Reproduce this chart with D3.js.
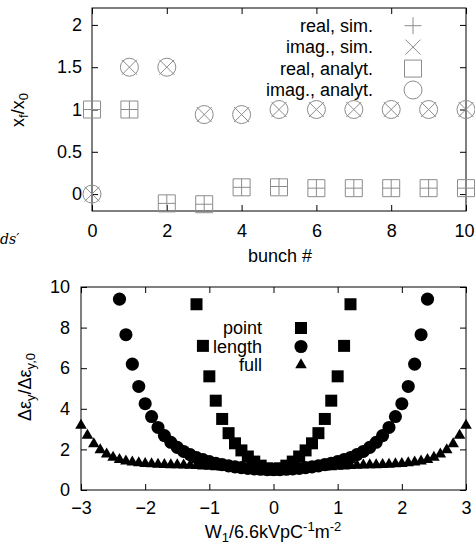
<!DOCTYPE html>
<html>
<head>
<meta charset="utf-8">
<script src="https://cdn.jsdelivr.net/npm/d3@7"></script>
<style>
    body { margin: 0; background: #fff; }
    svg { display: block; font-family: 'Liberation Sans', Arial, sans-serif; }
</style>
</head>
<body>
<div id="chart"></div>
<script>
// top panel: bunch number vs x_f/x_0
const bunches = [0, 1, 2, 3, 4, 5, 6, 7, 8, 9, 10];
const realSim = [1.0, 1.0, -0.11, -0.12, 0.08, 0.09, 0.07, 0.07, 0.07, 0.07, 0.07];
const imagSim = [0.0, 1.5, 1.5, 0.94, 0.94, 1.0, 1.0, 1.0, 1.0, 1.0, 1.0];
const realAnalyt = [1.0, 1.0, -0.11, -0.12, 0.08, 0.08, 0.07, 0.07, 0.07, 0.07, 0.07];
const imagAnalyt = [0.0, 1.5, 1.5, 0.94, 0.94, 1.0, 1.0, 1.0, 1.0, 1.0, 1.0];
const topXTicks = [0, 2, 4, 6, 8, 10];
const topYTicks = [0, 0.5, 1, 1.5, 2];
const topLegend = ['real, sim.', 'imag., sim.', 'real, analyt.', 'imag., analyt.'];

// bottom panel: emittance growth
const pointX = [-1.2, -1.1, -1.0, -0.9, -0.8, -0.7, -0.6, -0.5, -0.4, -0.3, -0.2, -0.1, 0,
    0.1, 0.2, 0.3, 0.4, 0.5, 0.6, 0.7, 0.8, 0.9, 1.0, 1.1, 1.2];
const pointY = [9.15, 7.1, 5.6, 4.4, 3.5, 2.8, 2.3, 1.95, 1.65, 1.4, 1.2, 1.07, 1.0,
    1.07, 1.2, 1.4, 1.65, 1.95, 2.3, 2.8, 3.5, 4.4, 5.6, 7.1, 9.15];
const lengthX = [-2.4, -2.3, -2.2, -2.1, -2.0, -1.9, -1.8, -1.7, -1.6, -1.5, -1.4, -1.3, -1.2,
    -1.1, -1.0, -0.9, -0.8, -0.7, -0.6, -0.5, -0.4, -0.3, -0.2, -0.1, 0,
    0.1, 0.2, 0.3, 0.4, 0.5, 0.6, 0.7, 0.8, 0.9, 1.0, 1.1, 1.2,
    1.3, 1.4, 1.5, 1.6, 1.7, 1.8, 1.9, 2.0, 2.1, 2.2, 2.3, 2.4];
const lengthY = [9.4, 7.65, 6.2, 5.1, 4.25, 3.62, 3.08, 2.68, 2.35, 2.1, 1.9, 1.74, 1.6,
    1.5, 1.4, 1.32, 1.25, 1.19, 1.14, 1.1, 1.06, 1.04, 1.02, 1.0, 1.0,
    1.0, 1.02, 1.04, 1.06, 1.1, 1.14, 1.19, 1.25, 1.32, 1.4, 1.5, 1.6,
    1.74, 1.9, 2.1, 2.35, 2.68, 3.08, 3.62, 4.25, 5.1, 6.2, 7.65, 9.4];
const fullX = [-3.0, -2.9, -2.8, -2.7, -2.6, -2.5, -2.4, -2.3, -2.2, -2.1, -2.0, -1.9, -1.8,
    -1.7, -1.6, -1.5, -1.4, -1.3, -1.2, -1.1, -1.0, -0.9, -0.8, -0.7, -0.6, -0.5, -0.4,
    -0.3, -0.2, -0.1, 0, 0.1, 0.2, 0.3, 0.4, 0.5, 0.6, 0.7, 0.8, 0.9, 1.0, 1.1, 1.2,
    1.3, 1.4, 1.5, 1.6, 1.7, 1.8, 1.9, 2.0, 2.1, 2.2, 2.3, 2.4, 2.5, 2.6, 2.7, 2.8, 2.9, 3.0];
const fullY = [3.18, 2.69, 2.27, 1.97, 1.77, 1.61, 1.49, 1.42, 1.37, 1.33, 1.3, 1.28, 1.26,
    1.25, 1.24, 1.23, 1.22, 1.21, 1.2, 1.18, 1.16, 1.14, 1.12, 1.1, 1.08, 1.06, 1.05,
    1.04, 1.03, 1.02, 1.02, 1.02, 1.03, 1.04, 1.05, 1.06, 1.08, 1.1, 1.12, 1.14, 1.16, 1.18, 1.2,
    1.21, 1.22, 1.23, 1.24, 1.25, 1.26, 1.28, 1.3, 1.33, 1.37, 1.42, 1.49, 1.61, 1.77, 1.97, 2.27, 2.69, 3.18];
const botXTicks = [-3, -2, -1, 0, 1, 2, 3];
const botYTicks = [0, 2, 4, 6, 8, 10];
const botLegend = ['point', 'length', 'full'];

const WIDTH = 475;
const HEIGHT = 547;
const GREY = '#8c8c8c';
const FONT = 18;
const SUB = 13;

const svg = d3.select('#chart').append('svg')
    .attr('width', WIDTH)
    .attr('height', HEIGHT);

// open marker shapes for the top panel
const openMarker = (kind, r) => {
    const p = d3.path();
    if (kind === 'plus') {
        p.moveTo(-r, 0); p.lineTo(r, 0);
        p.moveTo(0, -r); p.lineTo(0, r);
    } else if (kind === 'times') {
        p.moveTo(-r, -r); p.lineTo(r, r);
        p.moveTo(-r, r); p.lineTo(r, -r);
    } else if (kind === 'square') {
        p.rect(-r, -r, 2 * r, 2 * r);
    } else {
        p.moveTo(r, 0);
        p.arc(0, 0, r, 0, 2 * Math.PI);
    }
    return p.toString();
};

const drawFrame = (box, x, y, xTicks, yTicks, yFmt) => {
    const g = svg.append('g');
    g.append('g')
        .attr('class', 'x-bottom')
        .attr('transform', `translate(0,${box.bottom})`)
        .call(d3.axisBottom(x).tickValues(xTicks).tickSize(-6).tickSizeOuter(0).tickPadding(box.xPad).tickFormat(d3.format('d')));
    g.append('g')
        .attr('transform', `translate(0,${box.top})`)
        .call(d3.axisTop(x).tickValues(xTicks).tickSize(-6).tickSizeOuter(0).tickFormat(''));
    g.append('g')
        .attr('transform', `translate(${box.left},0)`)
        .call(d3.axisLeft(y).tickValues(yTicks).tickSize(-6).tickSizeOuter(0).tickPadding(box.yPad).tickFormat(yFmt));
    g.append('g')
        .attr('transform', `translate(${box.right},0)`)
        .call(d3.axisRight(y).tickValues(yTicks).tickSize(-6).tickSizeOuter(0).tickFormat(''));
    g.selectAll('.domain').remove();
    g.selectAll('.tick line').attr('stroke', '#000');
    g.selectAll('.tick text')
        .attr('font-size', FONT)
        .attr('font-family', 'Liberation Sans, Arial, sans-serif')
        .attr('fill', '#000');
    g.append('rect')
        .attr('x', box.left)
        .attr('y', box.top)
        .attr('width', box.right - box.left)
        .attr('height', box.bottom - box.top)
        .attr('fill', 'none')
        .attr('stroke', '#000');
    return g;
};

// ---------- top panel ----------
const topBox = { left: 92, right: 466, top: 8, bottom: 211, yPad: 10, xPad: 13 };
const xTop = d3.scaleLinear().domain([0, 10]).range([topBox.left, topBox.right]);
const yTop = d3.scaleLinear().domain([-0.2, 2.2]).range([topBox.bottom, topBox.top]);

const topFrame = drawFrame(topBox, xTop, yTop, topXTicks, topYTicks, d => String(d));
// last label sits on the page edge: keep it inside the picture
topFrame.selectAll('.x-bottom .tick text')
    .filter(d => d === 10)
    .attr('text-anchor', 'end')
    .attr('dx', WIDTH - 1 - topBox.right);

const topSeries = [
    { kind: 'plus', values: realSim, r: 8.5 },
    { kind: 'times', values: imagSim, r: 7.5 },
    { kind: 'square', values: realAnalyt, r: 8.5 },
    { kind: 'circle', values: imagAnalyt, r: 9 }
];

topSeries.forEach(s => {
    svg.append('g').selectAll('path')
        .data(bunches)
        .join('path')
        .attr('transform', (d, i) => `translate(${xTop(d)},${yTop(s.values[i])})`)
        .attr('d', openMarker(s.kind, s.r))
        .attr('fill', 'none')
        .attr('stroke', GREY)
        .attr('stroke-width', 1);
});

const topLegendY = d3.scalePoint().domain(topLegend).range([25.7, 90]);
topLegend.forEach((name, i) => {
    svg.append('text')
        .attr('x', 373)
        .attr('y', topLegendY(name))
        .attr('dy', '0.35em')
        .attr('text-anchor', 'end')
        .attr('font-size', FONT)
        .text(name);
    svg.append('path')
        .attr('transform', `translate(413,${topLegendY(name)})`)
        .attr('d', openMarker(topSeries[i].kind, topSeries[i].r))
        .attr('fill', 'none')
        .attr('stroke', GREY);
});

svg.append('text')
    .attr('x', 280)
    .attr('y', 262)
    .attr('text-anchor', 'middle')
    .attr('font-size', FONT)
    .text('bunch #');

const topYLabel = svg.append('text')
    .attr('transform', 'translate(24,110) rotate(-90)')
    .attr('text-anchor', 'middle')
    .attr('font-size', FONT);
topYLabel.append('tspan').text('x');
topYLabel.append('tspan').attr('font-size', SUB).attr('dy', 4).text('f');
topYLabel.append('tspan').attr('dy', -4).text('/x');
topYLabel.append('tspan').attr('font-size', SUB).attr('dy', 4).text('0');

// fragment of surrounding page text
svg.append('text')
    .attr('x', 0)
    .attr('y', 244)
    .attr('font-family', 'DejaVu Serif, serif')
    .attr('font-style', 'italic')
    .attr('font-size', 14)
    .text('ds\u2032');

// ---------- bottom panel ----------
const botBox = { left: 81, right: 466, top: 287, bottom: 490, yPad: 11, xPad: 11 };
const xBot = d3.scaleLinear().domain([-3, 3]).range([botBox.left, botBox.right]);
const yBot = d3.scaleLinear().domain([0, 10]).range([botBox.bottom, botBox.top]);

drawFrame(botBox, xBot, yBot, botXTicks, botYTicks, d3.format('d'));

const symSquare = d3.symbol().type(d3.symbolSquare).size(144)();
const symCircle = d3.symbol().type(d3.symbolCircle).size(135)();
const symTriangle = d3.symbol().type(d3.symbolTriangle).size(58)();

const botSeries = [
    { xs: pointX, ys: pointY, sym: symSquare },
    { xs: lengthX, ys: lengthY, sym: symCircle },
    { xs: fullX, ys: fullY, sym: symTriangle }
];

// draw full first so squares and circles sit on top like the reference
[2, 1, 0].forEach(k => {
    const s = botSeries[k];
    svg.append('g').selectAll('path')
        .data(s.xs)
        .join('path')
        .attr('transform', (d, i) => `translate(${xBot(d)},${yBot(s.ys[i])})`)
        .attr('d', s.sym)
        .attr('fill', '#000');
});

const botLegendY = d3.scalePoint().domain(botLegend).range([328, 365]);
botLegend.forEach((name, i) => {
    svg.append('text')
        .attr('x', 262)
        .attr('y', botLegendY(name))
        .attr('dy', '0.35em')
        .attr('text-anchor', 'end')
        .attr('font-size', FONT)
        .text(name);
    svg.append('path')
        .attr('transform', `translate(301,${botLegendY(name)})`)
        .attr('d', botSeries[i].sym)
        .attr('fill', '#000');
});

const botXLabel = svg.append('text')
    .attr('x', 273)
    .attr('y', 538)
    .attr('text-anchor', 'middle')
    .attr('font-size', FONT);
botXLabel.append('tspan').text('W');
botXLabel.append('tspan').attr('font-size', SUB).attr('dy', 4).text('1');
botXLabel.append('tspan').attr('dy', -4).text('/6.6kVpC');
botXLabel.append('tspan').attr('font-size', SUB).attr('dy', -7).text('-1');
botXLabel.append('tspan').attr('dy', 7).text('m');
botXLabel.append('tspan').attr('font-size', SUB).attr('dy', -7).text('-2');

const botYLabel = svg.append('text')
    .attr('transform', 'translate(31,387) rotate(-90)')
    .attr('text-anchor', 'middle')
    .attr('font-size', FONT);
botYLabel.append('tspan').text('\u0394\u03b5');
botYLabel.append('tspan').attr('font-size', SUB).attr('dy', 4).text('y');
botYLabel.append('tspan').attr('dy', -4).text('/\u0394\u03b5');
botYLabel.append('tspan').attr('font-size', SUB).attr('dy', 4).text('y,0');
</script>
</body>
</html>
